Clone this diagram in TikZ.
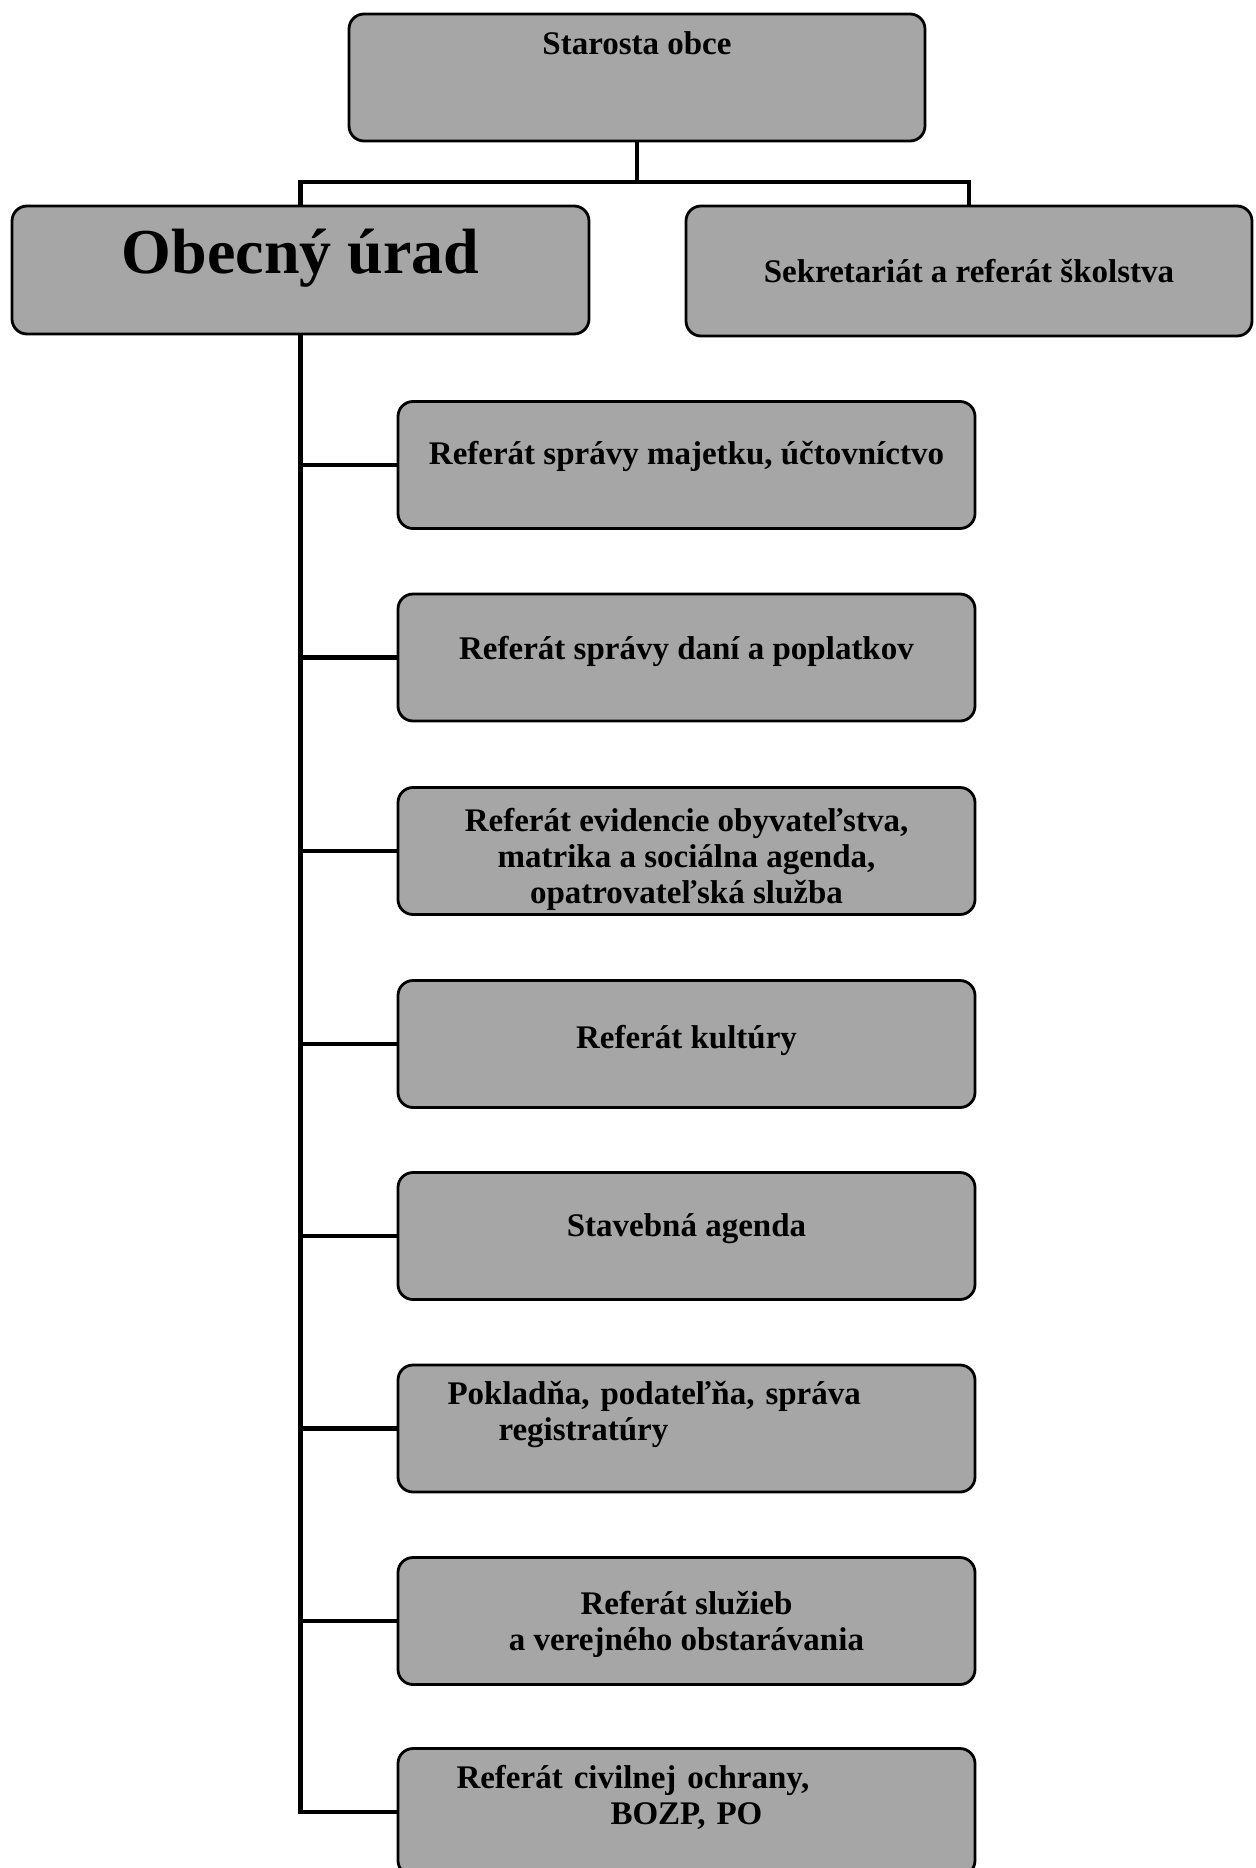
\documentclass[tikz,border=0pt]{standalone}
\usepackage{fontspec}
\setmainfont{Liberation Serif}
\usetikzlibrary{positioning}

\tikzset{
  unit/.style={draw, line width=1.4pt, rounded corners=7.5pt, fill=black!35,
    inner sep=0pt, align=center, text height=11pt,
    font=\bfseries\fontsize{16.5}{18}\selectfont},
  subunit/.style={unit, minimum width=288.5pt, minimum height=63.5pt},
  conn/.style={line width=2.2pt}
}

\begin{document}
\begin{tikzpicture}[x=0.5pt,y=-0.5pt]
  \useasboundingbox (0,0) rectangle (1255,1868);
  \node[unit, minimum width=288pt, minimum height=63.5pt, text depth=33.5pt] (starosta) at (637,77.5) {Starosta obce};
  \node[unit, minimum width=288.5pt, minimum height=64pt, text height=21pt, text depth=17.8pt,
        font=\bfseries\fontsize{32}{36}\selectfont] (obec) at (300.5,270) {Obecný úrad};
  \node[unit, minimum width=283pt, minimum height=65pt, text depth=0pt] (sekr) at (969,271) {Sekretariát a referát školstva};
  \coordinate (fork) at (637,182);
  \draw[conn] (starosta) -- (fork);
  \draw[conn] (obec.north) |- (fork) -| (sekr.north);

  \node[subunit, text depth=12pt] (b1) at (686.5,465) {Referát správy majetku, účtovníctvo};
  \node[subunit, text depth=9.5pt] (b2) at (686.5,657.5) {Referát správy daní a poplatkov};
  \node[subunit, text height=52pt, text depth=0pt] (b3) at (686.5,851) {Referát evidencie obyvateľstva,\\ matrika a sociálna agenda,\\ opatrovateľská služba};
  \node[subunit, text depth=7pt] (b4) at (686.5,1044) {Referát kultúry};
  \node[subunit, text depth=11pt] (b5) at (686.5,1236) {Stavebná agenda};
  \node[subunit, text depth=35.5pt, text width=239pt, align=left] (b6) at (686.5,1428.5) {Pokladňa, podateľňa, správa\\ \hspace*{25.5pt}registratúry};
  \node[subunit, text height=29pt, text depth=0pt] (b7) at (686.5,1621) {Referát služieb\\ a verejného obstarávania};
  \node[subunit, text depth=35pt, text width=230pt, align=left] (b8) at (686.5,1812) {Referát civilnej ochrany,\\ \hspace*{77pt}BOZP, PO};

  \draw[conn] (obec.south) |- (b8.west);
  \foreach \i in {1,...,7}
    \draw[conn] (obec.south |- b\i.west) -- (b\i.west);
\end{tikzpicture}
\end{document}
